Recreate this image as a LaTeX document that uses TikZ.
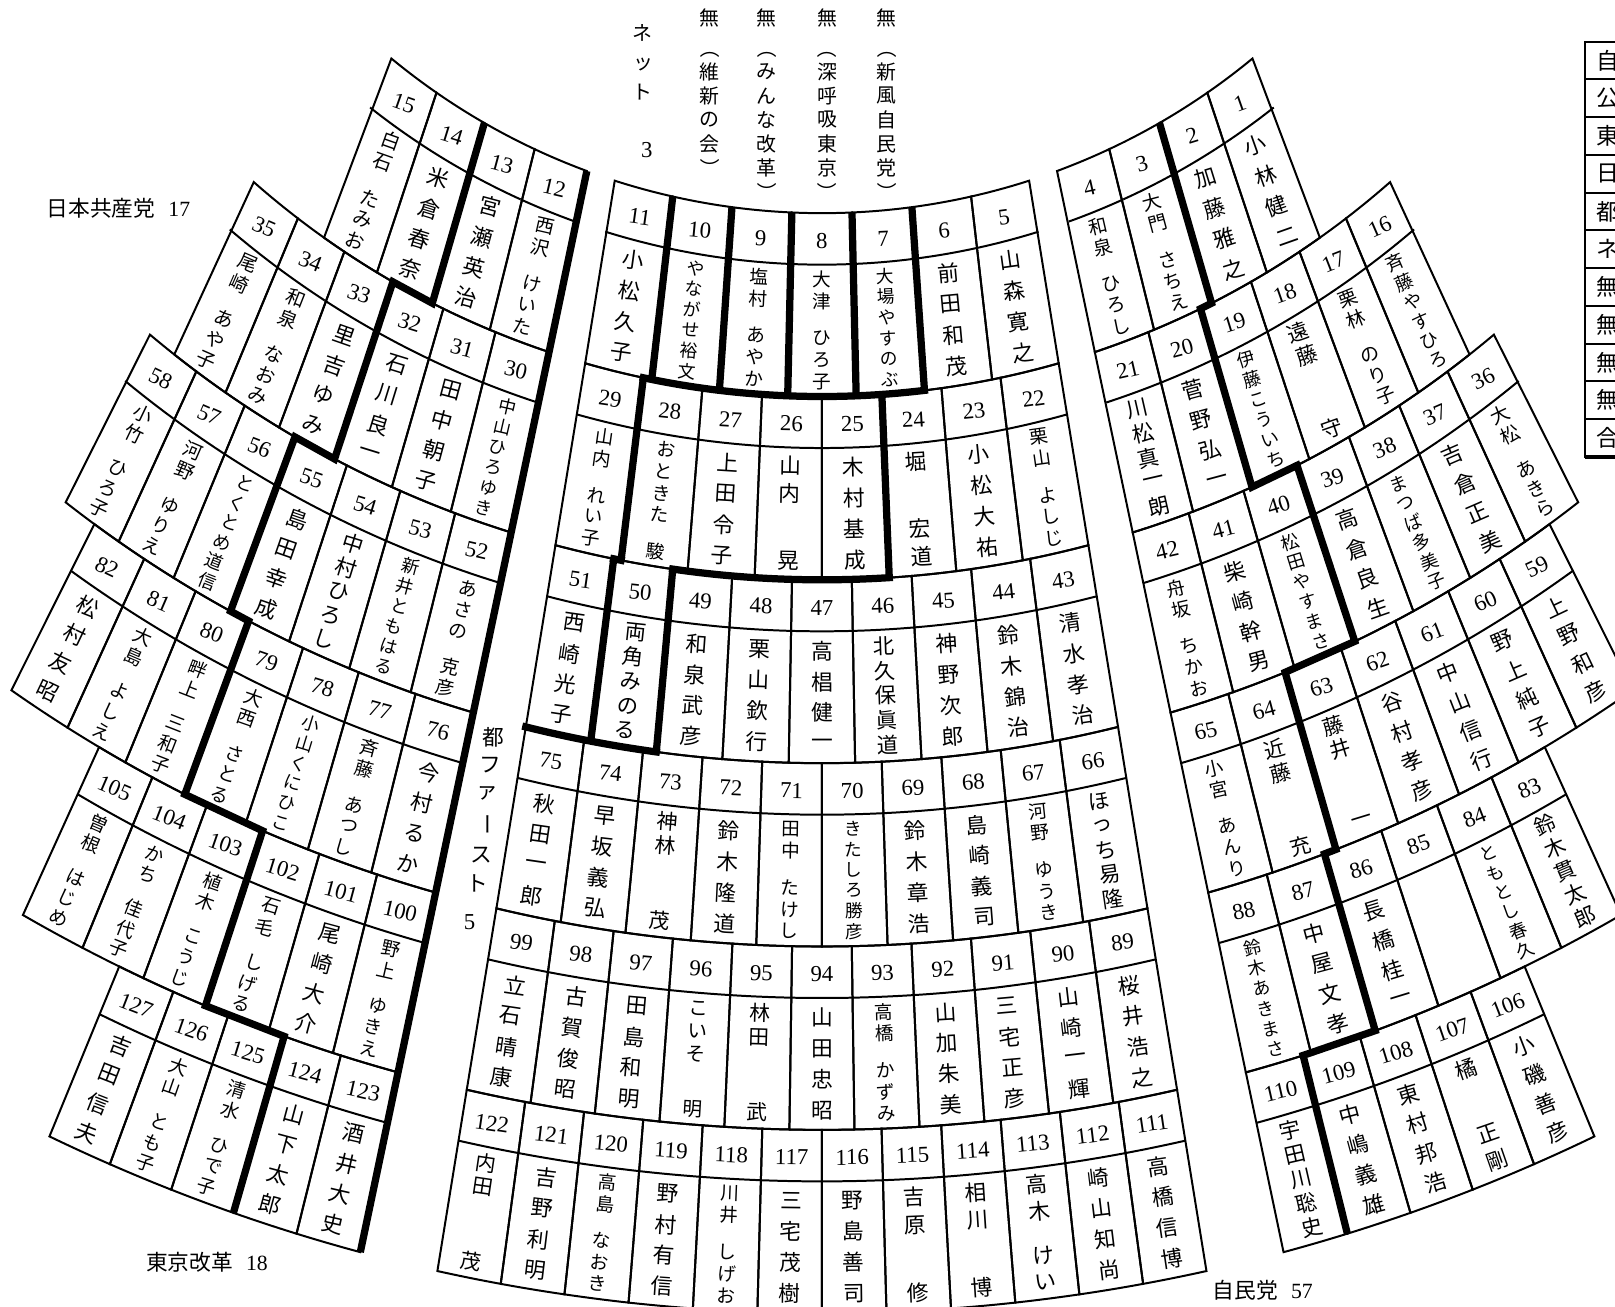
\documentclass[tikz,border=0pt]{standalone}
\usepackage{fontspec}
\setmainfont{Liberation Serif}
\newfontfamily\jp{Noto Sans CJK JP}

% seat geometry: all row arcs share one centre, angles in degrees
\def\cang{{17.83,15.98,14.80,13.97,13.35,12.88,12.50}}
\def\wang{{20.33,18.50,17.33,16.51,15.90,15.43,15.06}}
\def\wtop{{0.55,0.555,0.575,0.59,0.595,0.58}}

\newcommand\cenA[3]{%
  \pgfmathsetmacro\ca{\cang[#1]}%
  \pgfmathsetmacro\seatres{\ca*(2*#2/#3-1)}}
\newcommand\wingT[3]{%
  \pgfmathsetmacro\wa{\wang[#2]}%
  \pgfmathsetmacro\wt{\wtop[#2]}%
  \pgfmathsetmacro\seatres{#1*(\wa+#3*\wt/(6.57+1.78*#2)*57.2958)}}
\newcommand\wingB[3]{%
  \pgfmathtruncatemacro\kb{#2+1}%
  \pgfmathsetmacro\wa{\wang[\kb]}%
  \pgfmathsetmacro\wt{\wtop[#2]}%
  \pgfmathsetmacro\seatres{#1*(\wa+#3*(\wt+0.065)/(6.57+1.78*\kb)*57.2958)}}

% vertical names: | is a gap
\newcount\nmW \newcount\nmP
\def\nmbar{|}
\def\nmcount#1{\ifx\relax#1\let\nmnext\relax\else\def\nmchar{#1}%
  \ifx\nmchar\nmbar\advance\nmW by 7\relax\else\advance\nmW by 10\relax\fi
  \let\nmnext\nmcount\fi\nmnext}
\def\nmplace#1{\ifx\relax#1\let\nmnext\relax\else\def\nmchar{#1}\let\nmnext\nmstep\fi\nmnext}
\def\nmstep{\ifx\nmchar\nmbar\advance\nmP by 7\relax\let\nmdo\relax\else\let\nmdo\nmput\fi\nmdo\nmplace}
\def\nmput{\node[inner sep=0pt,font=\jp\fontsize{\nmfs}{\nmfs}\selectfont]
  at (0,{-\nmstart-(\the\nmP+5)*\nmpitch/10}) {\nmchar};\advance\nmP by 10\relax}

% one seat: side (-1 left, 0 centre, 1 right), row, index, cells, number, name
\newcommand\seat[6]{%
  \pgfmathsetmacro\rT{6.57+1.78*#2}%
  \pgfmathsetmacro\rB{\rT+1.78}%
  \pgfmathtruncatemacro\kB{#2+1}%
  \pgfmathtruncatemacro\jn{#3+1}%
  \ifnum#1=0
    \cenA{#2}{#3}{#4}\let\aTa\seatres
    \cenA{#2}{\jn}{#4}\let\aTb\seatres
    \cenA{\kB}{#3}{#4}\let\aBa\seatres
    \cenA{\kB}{\jn}{#4}\let\aBb\seatres
  \else
    \wingT{#1}{#2}{#3}\let\aTa\seatres
    \wingT{#1}{#2}{\jn}\let\aTb\seatres
    \wingB{#1}{#2}{#3}\let\aBa\seatres
    \wingB{#1}{#2}{\jn}\let\aBb\seatres
  \fi
  \draw[seatline] (\aTa-90:\rT) arc[start angle=\aTa-90,end angle=\aTb-90,radius=\rT]
    -- (\aBb-90:\rB) arc[start angle=\aBb-90,end angle=\aBa-90,radius=\rB] -- cycle;
  \pgfmathsetmacro\aNa{\aTa+(\aBa-\aTa)*0.5/1.78}%
  \pgfmathsetmacro\aNb{\aTb+(\aBb-\aTb)*0.5/1.78}%
  \pgfmathsetmacro\rN{\rT+0.5}%
  \draw[seatline] (\aNa-90:\rN) arc[start angle=\aNa-90,end angle=\aNb-90,radius=\rN];
  \pgfmathsetmacro\amT{(\aTa+\aTb)/2}%
  \pgfmathsetmacro\amB{(\aBa+\aBb)/2}%
  \pgfmathsetmacro\xT{\rT*sin(\amT)}%
  \pgfmathsetmacro\yT{-\rT*cos(\amT)}%
  \pgfmathsetmacro\xB{\rB*sin(\amB)}%
  \pgfmathsetmacro\yB{-\rB*cos(\amB)}%
  \pgfmathsetmacro\cellL{veclen((\xB)-(\xT),(\yB)-(\yT))}%
  \pgfmathsetmacro\cellrot{atan2((\yB)-(\yT),(\xB)-(\xT))+90}%
  \begin{scope}[shift={(\xT,\yT)},rotate=\cellrot,transform shape]
    \node[numtext] (n#5) at (0,{-0.27*\cellL/1.78}) {#5};
    \nmW=0 \expandafter\nmcount#6\relax
    \ifnum\nmW>0
      \pgfmathsetmacro\nmstart{0.5*\cellL/1.78+0.04}%
      \pgfmathsetmacro\nmpitch{(\cellL-\nmstart-0.04)/(\the\nmW/10)}%
      \pgfmathsetmacro\nmfs{min(6.0,0.86*\nmpitch*28.45)}%
      \nmP=0 \expandafter\nmplace#6\relax
    \fi
  \end{scope}}

% one row: side, row, cells, first number, step, names
\newcommand\seatrow[6]{%
  \foreach \nm [count=\jj from 0] in {#6}{%
    \pgfmathtruncatemacro\num{#4+(#5)*\jj}%
    \seat{#1}{#2}{\jj}{#3}{\num}{\nm}}}

\newcommand\vcol[4]{% name, x, count, chars
  \node[vlbl] (#1-a) at (#2,-0.178) {無};
  \node[vlbl,rotate=-90] (#1-b) at (#2,-0.469) {（};
  \foreach \c [count=\i from 0] in {#4}{\node[vlbl] at (#2,{-0.696-0.234*\i}) {\c};}
  \node[vlbl,rotate=-90] (#1-c) at (#2,{-0.696-0.234*#3}) {）};}

\begin{document}
\begin{tikzpicture}[
  seatline/.style={line width=0.55pt},
  party/.style={line width=2pt},
  partyarc/.style={line width=2pt, line cap=rect},
  numtext/.style={font=\fontsize{6.3}{6.3}\selectfont, inner sep=0pt},
  lbl/.style={font=\jp\fontsize{6}{6}\selectfont, inner sep=0pt},
  vlbl/.style={font=\jp\fontsize{5.5}{5.5}\selectfont, inner sep=0pt},
]
\useasboundingbox (0,0) rectangle (15.68,-12.68);
\fill[white] (0,0) rectangle (15.68,-12.68);
\clip (0,0) rectangle (15.68,-12.68);

\begin{scope}[shift={(7.98,4.50)}]
  % left wing
  \seatrow{-1}{0}{4}{12}{1}{西沢|けいた,宮瀬英治,米倉春奈,白石|たみお}
  \seatrow{-1}{1}{6}{30}{1}{中山ひろゆき,田中朝子,石川良一,里吉ゆみ,和泉|なおみ,尾崎|あや子}
  \seatrow{-1}{2}{7}{52}{1}{あさの|克彦,新井ともはる,中村ひろし,島田幸成,とくとめ道信,河野|ゆりえ,小竹|ひろ子}
  \seatrow{-1}{3}{7}{76}{1}{今村るか,斉藤|あつし,小山くにひこ,大西|さとる,畔上|三和子,大島|よしえ,松村友昭}
  \seatrow{-1}{4}{6}{100}{1}{野上|ゆきえ,尾崎大介,石毛|しげる,植木|こうじ,かち|佳代子,曽根|はじめ}
  \seatrow{-1}{5}{5}{123}{1}{酒井大史,山下太郎,清水|ひで子,大山|とも子,吉田信夫}
  % centre
  \seatrow{0}{0}{7}{11}{-1}{小松久子,やながせ裕文,塩村|あやか,大津|ひろ子,大場やすのぶ,前田和茂,山森寛之}
  \seatrow{0}{1}{8}{29}{-1}{山内|れい子,おときた|駿,上田令子,山内||晃,木村基成,堀||宏道,小松大祐,栗山|よしじ}
  \seatrow{0}{2}{9}{51}{-1}{西崎光子,両角みのる,和泉武彦,栗山欽行,高椙健一,北久保眞道,神野次郎,鈴木錦治,清水孝治}
  \seatrow{0}{3}{10}{75}{-1}{秋田一郎,早坂義弘,神林|||茂,鈴木隆道,田中|たけし,きたしろ勝彦,鈴木章浩,島崎義司,河野|ゆうき,ほっち易隆}
  \seatrow{0}{4}{11}{99}{-1}{立石晴康,古賀俊昭,田島和明,こいそ||明,林田|||武,山田忠昭,高橋|かずみ,山加朱美,三宅正彦,山崎一輝,桜井浩之}
  \seatrow{0}{5}{12}{122}{-1}{内田|||茂,吉野利明,高島|なおき,野村有信,川井|しげお,三宅茂樹,野島善司,吉原||修,相川||博,高木|けい,崎山知尚,高橋信博}
  % right wing
  \seatrow{1}{0}{4}{4}{-1}{和泉|ひろし,大門|さちえ,加藤雅之,小林健二}
  \seatrow{1}{1}{6}{21}{-1}{川松真一朗,菅野弘一,伊藤こういち,遠藤|||守,栗林|のり子,斉藤やすひろ}
  \seatrow{1}{2}{7}{42}{-1}{舟坂|ちかお,柴崎幹男,松田やすまさ,高倉良生,まつば多美子,吉倉正美,大松|あきら}
  \seatrow{1}{3}{7}{65}{-1}{小宮|あんり,近藤|||充,藤井|||一,谷村孝彦,中山信行,野上純子,上野和彦}
  \seatrow{1}{4}{6}{88}{-1}{鈴木あきまさ,中屋文孝,長橋桂一,|,ともとし春久,鈴木貫太郎}
  \seatrow{1}{5}{5}{110}{-1}{宇田川聡史,中嶋義雄,東村邦浩,橘||正剛,小磯善彦}

  % party borders, wings
  \foreach \k in {0,...,6}{\pgfmathsetmacro\wa{\wang[\k]}
    \coordinate (LB\k) at (-\wa-90:{6.57+1.78*\k});}
  \draw[party] (LB0) -- (LB1) -- (LB2) -- (LB3) -- (LB4) -- (LB5) -- (LB6);
  \foreach \k/\j in {0/2,1/3,2/4,3/4,4/3,5/2}{%
    \wingT{-1}{\k}{\j}\coordinate (LPt\k) at (\seatres-90:{6.57+1.78*\k});
    \wingB{-1}{\k}{\j}\coordinate (LPb\k) at (\seatres-90:{8.35+1.78*\k});}
  \draw[party] (LPt0) -- (LPb0) -- (LPt1) -- (LPb1) -- (LPt2) -- (LPb2) -- (LPt3)
    -- (LPb3) -- (LPt4) -- (LPb4) -- (LPt5) -- (LPb5);
  \foreach \k/\j in {0/2,1/2,2/3,3/2,4/2,5/1}{%
    \wingT{1}{\k}{\j}\coordinate (RPt\k) at (\seatres-90:{6.57+1.78*\k});
    \wingB{1}{\k}{\j}\coordinate (RPb\k) at (\seatres-90:{8.35+1.78*\k});}
  \draw[party] (RPt0) -- (RPb0) -- (RPt1) -- (RPb1) -- (RPt2) -- (RPb2) -- (RPt3)
    -- (RPb3) -- (RPt4) -- (RPb4) -- (RPt5) -- (RPb5);

  % party borders, centre
  \foreach \j in {1,...,5}{\cenA{0}{\j}{7}\let\pa\seatres\cenA{1}{\j}{7}\let\pb\seatres
    \draw[party] (\pa-90:6.57) -- (\pb-90:8.35);}
  \foreach \j in {1,5}{\cenA{1}{\j}{8}\let\pa\seatres\cenA{2}{\j}{8}\let\pb\seatres
    \draw[party] (\pa-90:8.35) -- (\pb-90:10.13);}
  \foreach \j in {1,2}{\cenA{2}{\j}{9}\let\pa\seatres\cenA{3}{\j}{9}\let\pb\seatres
    \draw[party] (\pa-90:10.13) -- (\pb-90:11.91);}
  \cenA{1}{1}{8}\let\pa\seatres \cenA{1}{5}{7}\let\pb\seatres
  \draw[partyarc] (\pa-90:8.35) arc[start angle=\pa-90,end angle=\pb-90,radius=8.35];
  \cenA{2}{2}{9}\let\pa\seatres \cenA{2}{5}{8}\let\pb\seatres
  \draw[partyarc] (\pa-90:10.13) arc[start angle=\pa-90,end angle=\pb-90,radius=10.13];
  \cenA{2}{1}{9}\let\pa\seatres \cenA{2}{1}{8}\let\pb\seatres
  \draw[partyarc] (\pa-90:10.13) arc[start angle=\pa-90,end angle=\pb-90,radius=10.13];
  \cenA{3}{0}{9}\let\pa\seatres \cenA{3}{2}{9}\let\pb\seatres
  \draw[partyarc] (\pa-90:11.91) arc[start angle=\pa-90,end angle=\pb-90,radius=11.91];
\end{scope}

% group labels
\node[lbl] (jcp) at (1.15,-2.02) {日本共産党\hspace{0.6em}{\rmfamily 17}};
\node[lbl] (kaikaku) at (2.01,-12.26) {東京改革\hspace{0.6em}{\rmfamily 18}};
\node[lbl] (ldp) at (12.26,-12.53) {自民党\hspace{0.6em}{\rmfamily 57}};
\node[vlbl] (net1) at (6.24,-0.32) {ネ};
\node[vlbl] (net2) at (6.25,-0.63) {ッ};
\node[vlbl] (net3) at (6.24,-0.89) {ト};
\node[numtext] (net4) at (6.28,-1.46) {3};
\vcol{ishin}{6.89}{4}{維,新,の,会}
\vcol{minna}{7.445}{5}{み,ん,な,改,革}
\vcol{shinko}{8.03}{5}{深,呼,吸,東,京}
\vcol{shimpu}{8.61}{5}{新,風,自,民,党}
\foreach \c/\x/\y/\r in {都/4.79/7.16/0,フ/4.76/7.43/0,ァ/4.73/7.70/0,ー/4.70/8.00/-90,ス/4.67/8.30/0,ト/4.63/8.58/0}
  {\node[vlbl,font=\jp\fontsize{6}{6}\selectfont,rotate=\r] at (\x,-\y) {\c};}
\node[numtext] (tofa) at (4.56,-8.95) {5};

% party table, cut by the page edge
\foreach \c [count=\i from 0] in {自,公,東,日,都,ネ,無,無,無,無,合}{
  \draw[seatline] (15.39,{-0.405-0.3665*\i}) rectangle (16.2,{-0.405-0.3665*(\i+1)});
  \node[lbl,font=\jp\fontsize{6.3}{6.3}\selectfont] at (15.615,{-0.405-0.3665*(\i+0.5)}) {\c};}
\draw[line width=1.2pt] (15.39,-4.44) -- (16.2,-4.44);
\end{tikzpicture}
\end{document}
